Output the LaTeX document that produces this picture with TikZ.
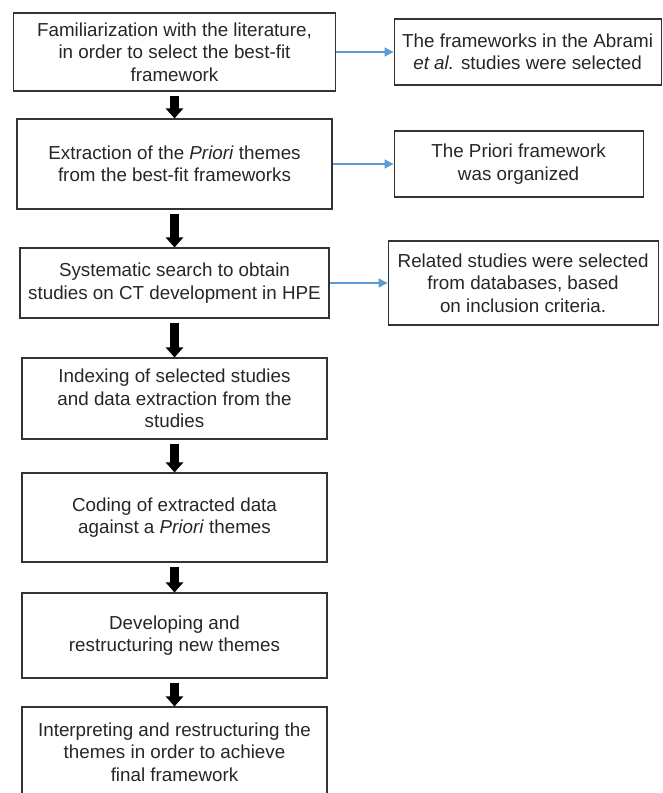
\documentclass[tikz,border=0pt]{standalone}
\usepackage{fontspec}
\setmainfont{Liberation Sans}
\usetikzlibrary{arrows.meta,positioning}
\definecolor{linkblue}{RGB}{91,155,213}

\begin{document}
\begin{tikzpicture} [x=1pt,y=1pt,node distance=117pt,
  stepbox/.style={draw=black!80,line width=1.1pt,align=center,text=black!85,
    font=\fontsize{18.8}{22.5}\selectfont,minimum width=305pt},
  bigarrow/.style={line width=8.5pt,-{Triangle[width=17pt,length=10pt]},shorten <=4pt},
  thinarrow/.style={draw=linkblue,line width=1.1pt,-{Triangle[width=9pt,length=9pt]}}]

  \useasboundingbox (0,0) rectangle (662,-793);

  % main steps
  \node[stepbox] (b1) at (174.5,-52) [minimum width=322pt, minimum height=78pt]
    {Familiarization with the literature,\\in order to select the best-fit\\framework};
  \node[stepbox] (b2) [below of=b1, node distance=112pt, minimum width=315pt, minimum height=90pt]
    {Extraction of the \textit{Priori} themes\\from the best-fit frameworks};
  \node[stepbox] (b3) [below of=b2, node distance=119pt, minimum width=309pt, minimum height=70pt]
    {Systematic search to obtain\\studies on CT development in HPE};
  \node[stepbox] (b4) [below of=b3, node distance=115.5pt, minimum height=81pt]
    {Indexing of selected studies\\and data extraction from the\\studies};
  \node[stepbox] (b5) [below of=b4, node distance=119pt, minimum height=89pt]
    {Coding of extracted data\\against a \textit{Priori} themes};
  \node[stepbox] (b6) [below of=b5, node distance=118pt, minimum height=85pt]
    {Developing and\\restructuring new themes};
  \node[stepbox] (b7) [below of=b6, node distance=116.5pt, minimum height=90pt]
    {Interpreting and restructuring the\\themes in order to achieve\\final framework};

  % outcomes
  \node[stepbox] (r1) [right=57.5pt of b1, minimum width=267pt, minimum height=66pt]
    {The frameworks in the Abrami\\\textit{et al.} studies were selected};
  \node[stepbox] (r2) [right=61pt of b2, minimum width=249pt, minimum height=66pt]
    {The Priori framework\\was organized};
  \node[stepbox] (r3) [right=58pt of b3, minimum width=270pt, minimum height=84pt]
    {Related studies were selected\\from databases, based\\on inclusion criteria.};

  \foreach \a/\b in {b1/b2,b2/b3,b3/b4,b4/b5,b5/b6,b6/b7}
    \draw[bigarrow] (\a) -- (\b);

  \draw[thinarrow] (b1) -- (r1);
  \draw[thinarrow] (b2) -- (r2);
  \draw[thinarrow] (b3) -- (r3);

\end{tikzpicture}
\end{document}
